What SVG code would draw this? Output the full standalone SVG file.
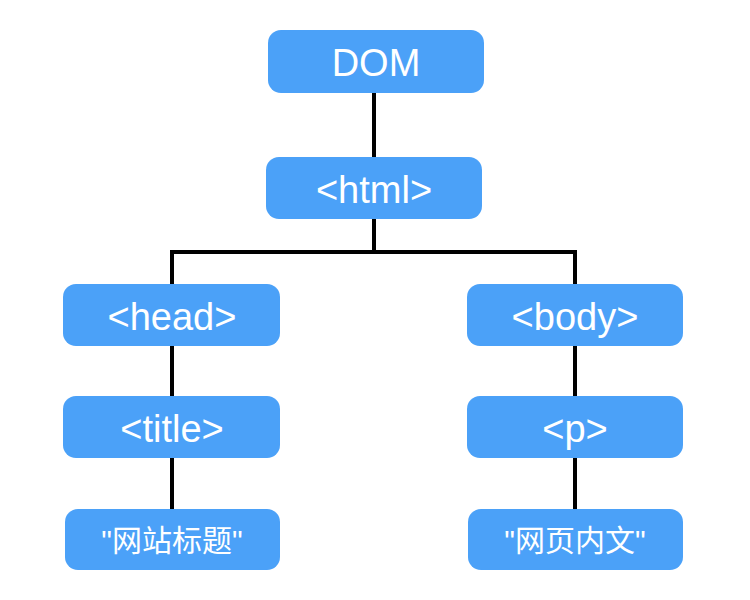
<svg xmlns="http://www.w3.org/2000/svg" width="750" height="600" viewBox="0 0 750 600">
<style>
.box{fill:#4BA1F8}
.t{font-family:"Liberation Sans",Arial,sans-serif;font-size:38px;fill:#fff;text-anchor:middle}
.c{font-family:"Liberation Sans","Noto Sans CJK SC",sans-serif;font-size:30px;fill:#fff;text-anchor:middle}
.ln{stroke:#000;stroke-width:4;fill:none}
</style>
<rect width="750" height="600" fill="#fff"/>
<g id="connectors">
<line class="ln" x1="374" y1="93" x2="374" y2="158"/>
<polyline class="ln" points="374,219 374,252 172,252 172,284"/>
<polyline class="ln" points="374,252 575,252 575,284"/>
<line class="ln" x1="172" y1="346" x2="172" y2="397"/>
<line class="ln" x1="575" y1="346" x2="575" y2="397"/>
<line class="ln" x1="172" y1="458" x2="172" y2="509"/>
<line class="ln" x1="575" y1="458" x2="575" y2="509"/>
</g>
<g id="dom"><rect class="box" x="268" y="30" width="216" height="63" rx="13"/><text class="t" x="376" y="76">DOM</text></g>
<g id="html"><rect class="box" x="266" y="157" width="216" height="62" rx="13"/><text class="t" x="374" y="203">&lt;html&gt;</text></g>
<g id="head"><rect class="box" x="63" y="284" width="217" height="62" rx="13"/><text class="t" x="172" y="330">&lt;head&gt;</text></g>
<g id="body"><rect class="box" x="467" y="284" width="216" height="62" rx="13"/><text class="t" x="575" y="330">&lt;body&gt;</text></g>
<g id="title"><rect class="box" x="63" y="396" width="217" height="62" rx="13"/><text class="t" x="172" y="442">&lt;title&gt;</text></g>
<g id="p"><rect class="box" x="467" y="396" width="216" height="62" rx="13"/><text class="t" x="575" y="442">&lt;p&gt;</text></g>
<g id="text1"><rect class="box" x="65" y="509" width="215" height="61" rx="13"/><text class="c" x="172" y="551">"网站标题"</text></g>
<g id="text2"><rect class="box" x="468" y="509" width="215" height="61" rx="13"/><text class="c" x="575" y="551">"网页内文"</text></g>
</svg>
